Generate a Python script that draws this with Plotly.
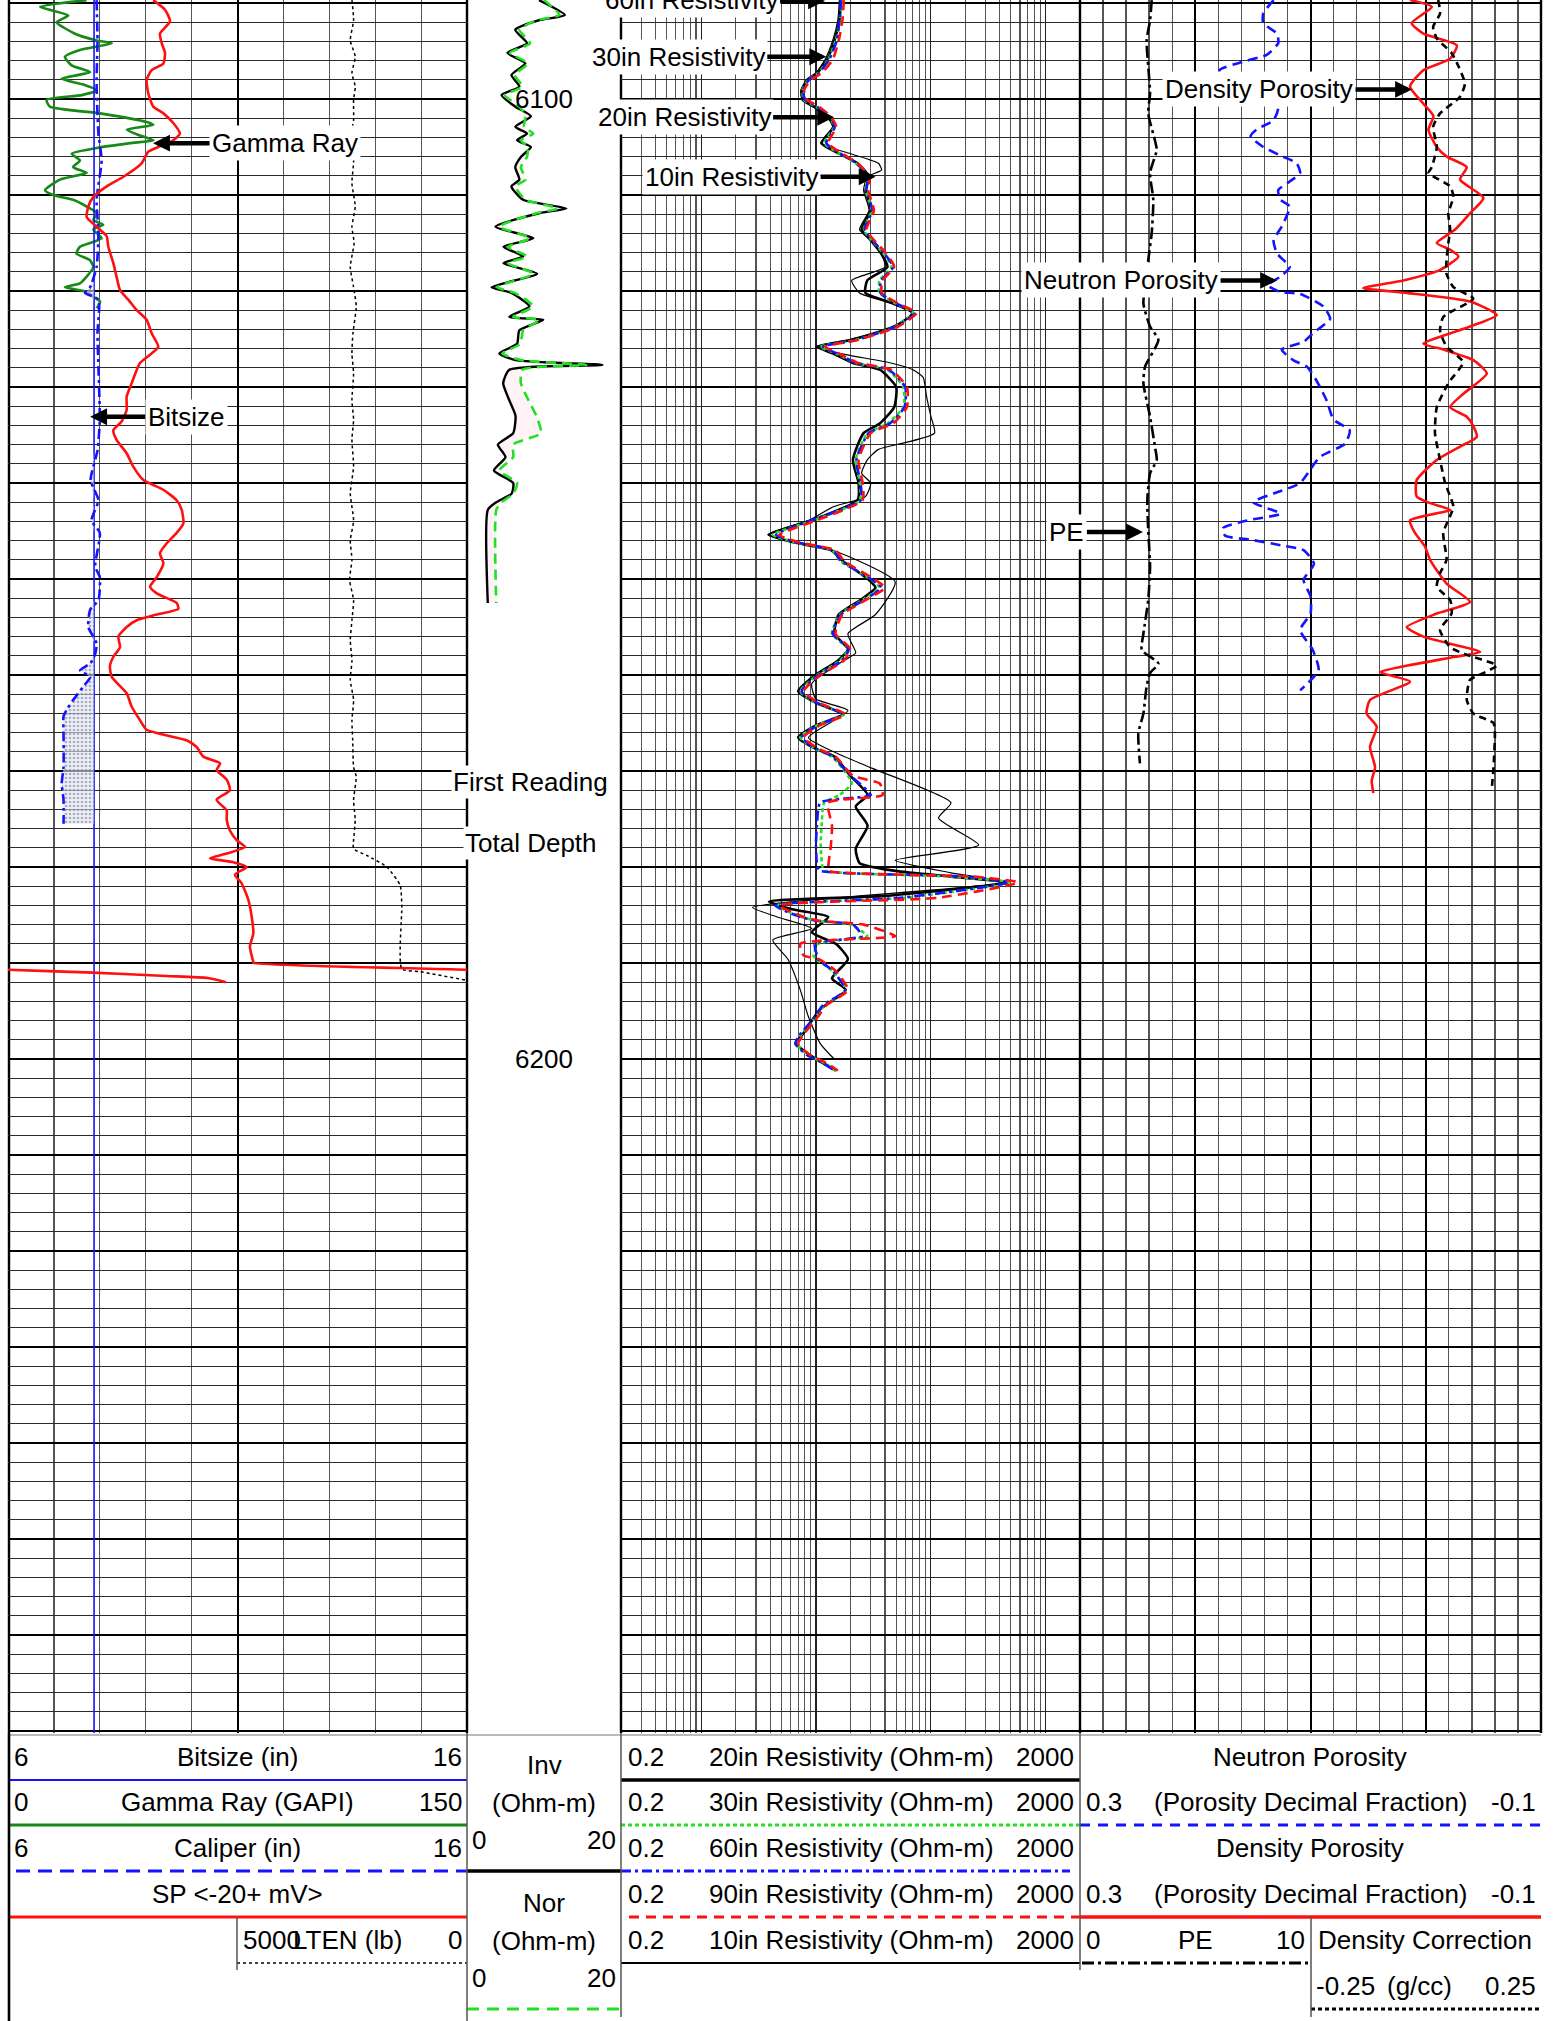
import math
import plotly.graph_objects as go

W, H = 1554, 2021
FONT = "Liberation Sans, Arial, Helvetica, sans-serif"
FS = 26

# ------------------------------------------------------------------ data
DEPTH_TOP, DEPTH_BOT = 6089.69, 6270.2

# Track 1 -------------------------------------------------------------
gr_depth = [6089.7, 6090.4, 6091.3, 6092.0, 6093.2, 6093.9, 6094.2, 6094.9, 6095.6, 6096.5,
            6097.2, 6097.9, 6098.5, 6099.1, 6099.6, 6100.1, 6100.8, 6101.5, 6102.4, 6102.7,
            6103.2, 6103.8, 6104.3, 6104.6, 6105.1, 6105.7, 6106.4, 6107.1, 6107.7, 6108.4,
            6109.5, 6110.0, 6110.5, 6111.2, 6111.9, 6112.6, 6113.1, 6113.6, 6114.5, 6115.4,
            6116.1, 6116.8, 6117.5, 6118.5, 6119.2, 6119.6, 6120.1, 6120.6, 6121.1, 6121.8]
gr_api = [25.7, 10.5, 19.7, 15.9, 21.9, 29.0, 33.9, 23.5, 18.6, 20.8,
          26.8, 17.5, 24.6, 29.0, 24.1, 12.6, 13.7, 30.1, 45.3, 47.5,
          38.8, 43.1, 47.5, 39.9, 29.0, 20.8, 23.5, 21.3, 25.7, 17.0,
          12.1, 14.8, 21.3, 25.7, 29.0, 27.9, 31.1, 27.9, 30.6, 23.5,
          22.4, 26.8, 27.9, 25.7, 23.5, 18.6, 25.7, 27.9, 30.1, 29.0]

sp_depth = [6089.7, 6090.7, 6091.9, 6093.2, 6094.2, 6095.2, 6096.3, 6097.0, 6098.0, 6099.4,
            6100.8, 6101.5, 6102.5, 6103.6, 6104.3, 6105.0, 6105.5, 6106.7, 6108.1, 6109.1,
            6110.2, 6111.2, 6112.3, 6113.3, 6114.3, 6115.4, 6117.1, 6118.5, 6119.9, 6120.9,
            6122.0, 6123.0, 6124.4, 6125.8, 6126.5, 6127.5, 6128.2, 6129.6, 6131.0, 6132.4,
            6133.6, 6134.5, 6135.5, 6136.9, 6138.3, 6139.7, 6140.7, 6141.8, 6142.8, 6144.2,
            6145.2, 6146.3, 6147.3, 6148.4, 6149.8, 6150.8, 6151.5, 6152.5, 6153.1, 6153.7,
            6154.3, 6155.0, 6156.0, 6157.1, 6158.1, 6159.1, 6160.2, 6161.9, 6163.3, 6164.7,
            6165.7, 6166.8, 6167.5, 6168.5, 6169.2, 6169.9, 6170.9, 6172.0, 6173.0, 6174.1,
            6175.1, 6176.2, 6177.2, 6177.9, 6178.6, 6179.1, 6179.5, 6180.0, 6180.8, 6181.7,
            6183.4, 6185.2, 6186.9, 6188.3, 6189.9, 6190.0, 6190.7, 6191.0, 6191.35, 6191.56, 6192.0]
sp_mv = [-36.7, -31.6, -29.4, -33.8, -33.0, -31.6, -32.3, -37.4, -39.6, -38.9,
         -36.7, -32.3, -28.0, -25.1, -28.0, -34.5, -38.9, -41.8, -49.7, -57.0,
         -62.8, -65.0, -65.7, -61.4, -57.0, -56.3, -54.1, -52.7, -51.2, -47.6,
         -43.9, -39.6, -37.4, -34.5, -37.4, -42.5, -43.9, -46.1, -48.3, -48.3,
         -50.5, -54.1, -52.7, -48.3, -45.4, -41.0, -32.3, -26.5, -24.3, -23.6,
         -26.5, -30.9, -33.8, -32.3, -35.2, -38.1, -35.2, -26.5, -25.8, -35.2,
         -43.9, -48.3, -51.9, -51.2, -54.1, -55.6, -54.8, -48.3, -46.1, -42.5,
         -39.6, -22.2, -17.8, -14.9, -7.6, -9.1, -4.7, -3.3, -9.1, -4.7,
         -4.7, -3.3, -0.4, 3.3, -4.7, -12.0, -1.8, 4.0, -1.1, 1.8,
         4.7, 6.2, 6.9, 5.4, 6.9, 7.0, 100.0, 137.0, 169.0, 187.0, 195.0]

cal_depth = [6089.7, 6093.9, 6098.4, 6103.6, 6106.4, 6110.5, 6114.0, 6117.5, 6119.6, 6120.2,
             6120.9, 6124.4, 6127.9, 6133.4, 6136.6, 6139.7, 6141.8, 6143.9, 6145.2, 6148.7,
             6149.8, 6152.2, 6153.2, 6155.0, 6156.7, 6157.8, 6158.8, 6159.5, 6160.2, 6161.2,
             6162.6, 6163.6, 6164.3, 6166.1, 6169.6, 6171.3, 6173.0, 6175.5]
cal_in = [7.93, 7.95, 7.93, 7.97, 8.04, 7.93, 7.97, 7.93, 7.79, 7.68,
          7.97, 7.95, 7.97, 8.00, 7.95, 7.80, 7.97, 7.82, 8.00, 7.90,
          8.00, 7.97, 7.79, 7.75, 7.93, 7.90, 7.79, 7.57, 7.79, 7.64,
          7.42, 7.28, 7.21, 7.21, 7.21, 7.17, 7.21, 7.21]

BITSIZE_IN = 7.875
bit_depth = [6089.0, 6271.0]

lten_depth = [6089.7, 6091.8, 6093.9, 6095.6, 6097.3, 6098.7, 6100.1, 6102.2, 6104.3, 6106.4,
              6108.8, 6111.2, 6113.3, 6115.0, 6117.5, 6119.6, 6121.6, 6124.4, 6126.5, 6128.6,
              6131.4, 6133.4, 6135.5, 6138.3, 6141.1, 6143.9, 6146.0, 6148.0, 6150.1, 6152.2,
              6154.3, 6156.4, 6158.5, 6160.5, 6162.6, 6164.7, 6166.8, 6169.6, 6170.6, 6173.0,
              6175.1, 6177.2, 6178.1, 6178.8, 6180.0, 6181.9, 6184.0, 6190.6, 6190.9, 6191.8]
lten_lb = [2507, 2471, 2543, 2435, 2507, 2435, 2471, 2471, 2543, 2471,
           2507, 2435, 2507, 2460, 2543, 2471, 2413, 2485, 2507, 2471,
           2507, 2471, 2507, 2471, 2543, 2471, 2543, 2507, 2558, 2471,
           2507, 2543, 2507, 2543, 2471, 2507, 2490, 2471, 2413, 2471,
           2435, 2471, 2471, 2181, 1746, 1457, 1420, 1420, 1022, 7]

# Depth track (micro resistivity) --------------------------------------
mic_depth = [6089.7, 6091.25, 6091.8, 6092.8, 6094.2, 6095.2, 6096.3, 6097.5, 6098.7, 6099.6,
             6100.8, 6101.8, 6102.9, 6103.6, 6104.3, 6105.0, 6106.0, 6107.1, 6108.4, 6109.1,
             6110.5, 6111.4, 6111.9, 6113.3, 6114.5, 6115.4, 6116.4, 6117.1, 6118.2, 6119.6,
             6120.2, 6121.6, 6122.7, 6123.0, 6124.1, 6125.5, 6126.5, 6127.2, 6127.7, 6128.2,
             6129.6, 6131.4, 6133.0, 6134.8, 6136.0, 6137.3, 6138.7, 6140.0, 6141.1, 6142.0,
             6142.8, 6152.5]
inv_ohmm = [9.35, 12.7, 9.35, 6.27, 7.8, 5.25, 7.56, 5.77, 6.8, 4.48,
            6.27, 8.3, 6.27, 7.8, 6.5, 8.3, 7.05, 6.27, 6.8, 5.77,
            7.3, 12.9, 9.35, 3.7, 8.6, 4.74, 7.3, 4.74, 9.1, 3.2,
            5.77, 8.1, 5.5, 9.9, 6.8, 6.5, 4.2, 6.27, 17.6, 5.5,
            4.7, 5.5, 6.3, 6.0, 4.0, 5.0, 3.5, 6.0, 5.8, 3.8,
            2.7, 2.7]
nor_ohmm = [10.0, 12.0, 9.0, 6.8, 8.2, 5.6, 7.9, 6.2, 7.2, 4.9,
            6.8, 7.6, 7.4, 8.6, 7.0, 7.9, 7.8, 7.0, 7.6, 6.3,
            7.6, 11.8, 9.0, 4.2, 8.2, 5.3, 7.8, 5.3, 8.6, 3.9,
            6.2, 8.6, 6.0, 9.4, 7.3, 6.9, 4.6, 7.0, 15.5, 7.2,
            7.0, 8.0, 9.0, 9.6, 6.0, 6.0, 4.2, 6.5, 6.0, 4.5,
            3.8, 3.8]

# Track 3 (resistivity, ohm-m) -----------------------------------------
res_depth = [6089.7, 6091.8, 6093.9, 6095.9, 6097.3, 6098.0, 6099.1, 6100.1, 6100.8, 6101.8,
             6102.9, 6104.6, 6105.7, 6106.7, 6108.1, 6109.5, 6111.6, 6113.6, 6114.7, 6116.1,
             6117.5, 6118.9, 6120.2, 6121.3, 6122.3, 6123.7, 6125.1, 6125.8, 6126.5, 6127.5,
             6128.2, 6130.0, 6132.1, 6133.8, 6134.8, 6137.6, 6140.0, 6141.8, 6143.8, 6145.4,
             6146.2, 6147.0, 6148.1, 6150.1, 6150.9, 6152.1, 6153.7, 6155.7, 6157.3, 6158.5,
             6160.1, 6161.7, 6162.9, 6164.1, 6165.3, 6166.5, 6167.7, 6168.5, 6170.5, 6171.3,
             6172.5, 6173.3, 6175.7, 6177.7, 6180.0, 6180.4, 6181.0, 6181.6, 6183.2, 6184.0,
             6185.2, 6185.6, 6186.0, 6187.2, 6188.0, 6189.2, 6189.6, 6190.8, 6192.8, 6194.4,
             6195.6, 6197.6, 6198.4, 6199.6, 6200.4, 6201.2]
res30 = [16.8, 16.2, 14.9, 12.8, 10.45, 8.57, 7.6, 7.9, 10.0, 12.8,
         14.4, 11.8, 16.2, 22.2, 28.2, 27.1, 30.6, 26.1, 30.6, 38.8,
         45.5, 35.8, 35.8, 49.2, 70.4, 49.2, 22.2, 10.9, 14.9, 22.2,
         42.0, 57.7, 57.7, 42.0, 28.2, 22.2, 24.1, 24.1, 10.0, 4.22,
         6.75, 13.8, 16.2, 30.6, 35.8, 26.1, 16.2, 13.8, 19.0, 16.2,
         10.0, 7.3, 10.0, 17.5, 10.0, 7.3, 10.0, 13.8, 19.0, 20.5,
         16.0, 11.8, 11.2, 11.0, 11.4, 12.0, 150.0, 500.0, 60.0, 4.6,
         7.5, 10.0, 20.0, 28.0, 10.5, 9.5, 10.0, 13.8, 18.2, 11.8,
         10.0, 7.3, 6.75, 8.57, 11.8, 14.9]
res60 = [16.5, 16.0, 15.2, 13.0, 10.6, 8.7, 7.7, 8.1, 10.2, 13.0,
         14.6, 12.3, 16.5, 22.5, 28.5, 27.5, 31.0, 26.5, 31.0, 39.5,
         47.0, 37.0, 36.5, 50.0, 72.0, 50.0, 22.5, 11.5, 15.2, 22.5,
         43.0, 60.0, 59.0, 44.0, 28.8, 22.5, 24.5, 24.5, 9.6, 4.5,
         6.9, 14.0, 16.5, 31.0, 37.0, 27.0, 16.5, 14.0, 19.3, 16.8,
         10.2, 7.5, 10.2, 17.0, 10.2, 7.5, 10.2, 14.0, 20.0, 24.0,
         30.0, 10.9, 10.2, 10.0, 10.3, 11.0, 200.0, 480.0, 55.0, 4.4,
         7.3, 10.2, 21.0, 25.0, 9.8, 10.2, 10.4, 14.0, 18.0, 11.5,
         9.8, 7.1, 6.6, 8.4, 11.5, 14.5]
res90 = [17.5, 17.0, 15.8, 14.0, 11.2, 9.0, 7.9, 8.4, 10.6, 13.4,
         15.0, 12.8, 17.0, 23.0, 29.5, 28.5, 32.0, 27.5, 32.0, 41.0,
         48.0, 38.0, 37.5, 52.0, 75.0, 52.0, 23.0, 12.0, 15.8, 23.5,
         45.0, 62.0, 62.0, 47.0, 30.0, 23.5, 25.5, 25.5, 10.6, 4.8,
         7.2, 14.8, 17.5, 33.0, 40.0, 28.0, 17.0, 14.8, 20.0, 17.5,
         10.6, 7.8, 10.6, 18.0, 10.6, 7.8, 10.6, 14.8, 21.0, 36.0,
         38.0, 12.8, 13.8, 13.5, 12.8, 13.0, 240.0, 575.0, 117.0, 4.8,
         7.8, 10.6, 26.0, 49.0, 7.3, 7.8, 10.6, 14.8, 19.0, 12.3,
         10.4, 7.6, 7.0, 8.9, 12.3, 15.5]

res20_depth = [6089.7, 6091.8, 6093.9, 6095.9, 6097.3, 6098.0, 6099.1, 6100.1, 6100.8, 6101.8,
               6102.9, 6104.6, 6105.7, 6106.7, 6108.1, 6109.5, 6111.6, 6113.6, 6114.7, 6116.1,
               6117.5, 6118.9, 6120.2, 6121.3, 6122.3, 6123.7, 6125.1, 6125.8, 6126.5, 6127.5,
               6128.2, 6130.0, 6132.1, 6133.8, 6134.8, 6137.6, 6140.0, 6141.8, 6143.8, 6145.4,
               6146.2, 6147.0, 6148.1, 6150.1, 6150.9, 6152.1, 6153.7, 6155.7, 6157.3, 6158.5,
               6160.1, 6161.7, 6162.9, 6164.1, 6165.3, 6166.5, 6167.7, 6168.5, 6170.5, 6172.5,
               6173.7, 6175.7, 6178.1, 6179.6, 6180.4, 6181.0, 6181.6, 6183.0, 6183.6, 6184.4,
               6185.2, 6186.8, 6188.0, 6189.6, 6191.6, 6192.8, 6194.8, 6197.2, 6198.4, 6200.0,
               6201.2]
res20 = [16.5, 16.0, 14.5, 12.5, 10.2, 8.4, 7.5, 7.7, 9.6, 12.6,
         14.2, 11.2, 16.0, 23.0, 29.0, 27.0, 30.0, 25.0, 30.0, 37.0,
         42.0, 28.0, 27.0, 47.0, 70.4, 48.0, 20.0, 10.2, 14.0, 21.0,
         36.0, 50.0, 48.0, 36.0, 26.0, 21.0, 23.5, 23.0, 9.6, 3.9,
         6.5, 13.5, 17.0, 29.0, 33.0, 25.0, 15.8, 14.5, 19.0, 15.5,
         9.6, 7.0, 10.0, 17.0, 9.8, 7.0, 10.0, 14.5, 20.0, 28.2,
         22.2, 28.2, 22.2, 24.1, 49.2, 150.0, 454.0, 40.0, 3.9, 6.2,
         12.8, 9.2, 14.9, 19.0, 13.8, 18.2, 10.9, 7.9, 6.75, 10.0,
         14.9]

res10_depth = [6089.7, 6091.8, 6093.9, 6095.9, 6097.3, 6098.0, 6099.1, 6100.1, 6100.8, 6101.8,
               6102.9, 6104.6, 6105.7, 6106.7, 6107.4, 6108.1, 6109.5, 6111.6, 6113.6, 6114.7,
               6116.1, 6117.5, 6118.9, 6120.2, 6121.3, 6122.3, 6123.7, 6125.1, 6125.8, 6126.5,
               6127.5, 6128.2, 6129.0, 6131.0, 6133.0, 6134.8, 6135.8, 6136.5, 6137.6, 6139.0,
               6140.0, 6141.4, 6142.5, 6143.8, 6145.4, 6146.2, 6147.0, 6150.3, 6153.7, 6155.7,
               6157.7, 6158.5, 6160.9, 6162.5, 6163.7, 6166.5, 6168.1, 6169.7, 6173.3, 6174.9,
               6177.7, 6179.3, 6180.6, 6181.6, 6184.2, 6185.2, 6186.4, 6187.6, 6189.6, 6192.8,
               6195.6, 6198.4, 6200.0]
res10 = [16.0, 15.5, 14.0, 12.0, 10.0, 8.3, 7.4, 7.6, 9.4, 12.4,
         14.0, 11.0, 20.0, 35.0, 37.3, 28.0, 26.0, 29.0, 24.0, 30.0,
         37.0, 40.0, 20.5, 24.0, 46.0, 68.0, 50.0, 19.0, 10.0, 16.0,
         45.0, 70.0, 86.0, 92.0, 100.0, 108.0, 60.0, 35.0, 28.0, 25.0,
         30.0, 27.0, 14.0, 9.0, 3.8, 6.5, 14.0, 49.0, 33.0, 19.0,
         22.2, 17.5, 9.2, 10.0, 19.0, 8.6, 14.9, 30.6, 150.0, 117.0,
         262.0, 49.0, 150.0, 454.0, 2.8, 4.6, 9.2, 4.2, 5.7, 7.3,
         8.6, 10.9, 14.4]

# Track 4 -------------------------------------------------------------
nphi_depth = [6089.7, 6091.1, 6092.1, 6093.2, 6094.2, 6095.4, 6096.1, 6097.0, 6099.0, 6100.8,
              6102.2, 6103.2, 6103.9, 6105.0, 6106.0, 6106.7, 6107.7, 6108.6, 6109.5, 6110.5,
              6111.2, 6113.3, 6114.7, 6116.1, 6117.5, 6118.5, 6119.4, 6120.1, 6120.3, 6121.6,
              6122.9, 6124.4, 6125.3, 6126.1, 6127.2, 6127.9, 6129.3, 6131.4, 6133.4, 6134.5,
              6135.9, 6137.3, 6140.0, 6141.1, 6142.0, 6143.2, 6143.9, 6144.7, 6145.5, 6145.9,
              6146.5, 6147.0, 6148.4, 6150.1, 6151.8, 6153.6, 6155.3, 6157.4, 6159.5, 6161.6]
nphi = [0.132, 0.141, 0.141, 0.129, 0.128, 0.138, 0.158, 0.179, 0.150, 0.128,
        0.132, 0.147, 0.152, 0.141, 0.124, 0.112, 0.109, 0.118, 0.128, 0.126,
        0.118, 0.125, 0.132, 0.129, 0.118, 0.126, 0.137, 0.126, 0.109, 0.089,
        0.083, 0.098, 0.106, 0.125, 0.115, 0.103, 0.095, 0.086, 0.080, 0.066,
        0.070, 0.092, 0.109, 0.132, 0.150, 0.126, 0.155, 0.176, 0.174, 0.152,
        0.125, 0.106, 0.097, 0.106, 0.100, 0.100, 0.109, 0.098, 0.093, 0.109]

dphi_depth = [6089.7, 6090.4, 6092.1, 6093.2, 6094.4, 6095.8, 6097.0, 6098.7, 6100.5, 6101.8,
              6103.2, 6105.0, 6106.0, 6107.1, 6108.4, 6110.3, 6111.9, 6113.6, 6115.0, 6115.7,
              6116.4, 6117.8, 6118.9, 6119.7, 6120.2, 6121.1, 6122.5, 6123.7, 6125.5, 6126.1,
              6127.2, 6128.6, 6130.7, 6132.1, 6133.1, 6134.1, 6135.2, 6136.2, 6137.6, 6139.7,
              6141.4, 6142.1, 6142.8, 6143.9, 6145.2, 6146.6, 6148.0, 6150.5, 6152.4, 6153.6,
              6155.0, 6156.0, 6157.6, 6158.1, 6159.1, 6159.7, 6160.7, 6162.6, 6164.0, 6165.4,
              6167.5, 6169.6, 6171.0, 6172.3]
dphi = [0.0137, -0.0052, 0.0122, 0.0021, -0.0269, -0.0211, 0.0021, 0.0137, 0.0021, -0.0066,
        -0.0023, -0.0095, -0.0182, -0.0355, -0.0297, -0.0500, -0.0384, -0.0254, -0.0095, -0.0211,
        -0.0283, -0.0124, 0.0195, 0.0542, 0.0165, -0.0384, -0.0616, -0.0384, 0.0021, -0.0153,
        -0.0413, -0.0529, -0.0326, -0.0211, -0.0355, -0.0413, -0.0442, -0.0297, -0.0095, 0.0079,
        0.0079, -0.0037, -0.0211, 0.0137, 0.0094, 0.0008, -0.0037, -0.0182, -0.0384, -0.0095,
        0.0165, 0.0021, -0.0471, -0.0254, 0.0195, 0.0397, 0.0137, 0.0484, 0.0513, 0.0426,
        0.0484, 0.0440, 0.0469, 0.0455]

pe_depth = [6089.7, 6091.8, 6093.9, 6096.6, 6099.4, 6101.5, 6104.3, 6105.3, 6107.7, 6110.5,
            6114.0, 6116.8, 6118.5, 6121.3, 6123.7, 6125.1, 6127.9, 6129.6, 6133.1, 6136.2,
            6137.6, 6139.0, 6141.8, 6144.9, 6148.7, 6152.2, 6155.7, 6157.4, 6158.8, 6159.8,
            6161.2, 6164.0, 6166.1, 6169.2]
pe_bpe = [3.11, 3.04, 2.89, 2.96, 3.04, 2.96, 3.25, 3.33, 3.04, 3.18,
          3.11, 2.96, 2.89, 2.75, 3.04, 3.40, 2.82, 2.75, 3.04, 3.25,
          3.33, 3.04, 2.92, 2.96, 3.04, 2.96, 2.75, 2.68, 3.40, 3.04,
          2.89, 2.75, 2.53, 2.60]

drho_depth = [6089.7, 6091.1, 6092.5, 6093.7, 6095.2, 6096.6, 6098.4, 6099.8, 6101.5, 6102.9,
              6105.0, 6107.1, 6107.7, 6109.1, 6110.2, 6111.9, 6113.6, 6115.0, 6116.8, 6118.2,
              6119.6, 6120.8, 6122.7, 6124.1, 6125.8, 6127.4, 6129.6, 6132.1, 6134.8, 6137.6,
              6140.0, 6141.4, 6142.5, 6145.2, 6148.0, 6149.4, 6150.8, 6152.2, 6153.6, 6155.3,
              6157.1, 6157.9, 6159.0, 6159.8, 6160.5, 6162.6, 6164.0, 6165.0, 6166.1, 6169.6,
              6172.0]
drho = [0.027, 0.031, 0.016, 0.024, 0.056, 0.071, 0.085, 0.074, 0.031, 0.016,
        0.024, 0.013, 0.006, 0.053, 0.060, 0.049, 0.053, 0.049, 0.045, 0.045,
        0.060, 0.103, 0.038, 0.031, 0.045, 0.081, 0.049, 0.024, 0.020, 0.031,
        0.042, 0.053, 0.060, 0.038, 0.045, 0.031, 0.024, 0.053, 0.056, 0.031,
        0.053, 0.089, 0.154, 0.125, 0.096, 0.089, 0.103, 0.147, 0.150, 0.147,
        0.143]

depth_marks = [6100, 6200]
FIRST_READING = 6171.1
TOTAL_DEPTH = 6177.5

# ------------------------------------------------------------------ layout helpers
def px(x):
    return x / W


def py(y):
    return 1 - y / H


GRID_BOTTOM = 1733
T1 = (8, 467)
TD = (467, 621)
T3 = (621, 1080)
T4 = (1080, 1541)

BLUE = "#1414ff"
GREEN_DK = "#168a16"
GREEN_LT = "#22e022"
RED = "#ff1010"
SMOOTH = 0.55

fig = go.Figure()


def line_trace(x, y, xa, ya, color, width, dash="solid", smooth=True, **kw):
    line = dict(color=color, width=width, dash=dash)
    if smooth:
        line.update(shape="spline", smoothing=SMOOTH)
    fig.add_trace(go.Scatter(x=x, y=y, xaxis=xa, yaxis=ya, mode="lines", line=line,
                             hoverinfo="skip", **kw))


# ---- Track 1
line_trace([BITSIZE_IN, BITSIZE_IN], bit_depth, "x2", "y", BLUE, 1.6, smooth=False)
line_trace([BITSIZE_IN] * len(cal_depth), cal_depth, "x2", "y", "rgba(0,0,0,0)", 0, smooth=False)
fig.add_trace(go.Scatter(x=[min(c, BITSIZE_IN) for c in cal_in], y=cal_depth, xaxis="x2", yaxis="y",
                         mode="lines", line=dict(width=0, color="rgba(0,0,0,0)"), fill="tonextx",
                         fillcolor="rgba(205,210,230,0.55)",
                         fillpattern=dict(shape=".", fgcolor="#6a6f8a", bgcolor="rgba(225,228,240,0.6)",
                                          size=4, solidity=0.35),
                         hoverinfo="skip"))
line_trace(cal_in, cal_depth, "x2", "y", BLUE, 2.6, "10px,4px,3px,4px")
line_trace(gr_api, gr_depth, "x", "y", GREEN_DK, 2.6)
line_trace(sp_mv, sp_depth, "x3", "y", RED, 2.6)
line_trace([v - 200 for v in sp_mv], sp_depth, "x3", "y", RED, 2.6)   # wrap-around (backup scale)
line_trace(lten_lb, lten_depth, "x4", "y", "black", 1.5, "3px,3px")

# ---- Depth track micro-resistivity
line_trace(inv_ohmm, mic_depth, "x5", "y2", "black", 2.4)
line_trace(nor_ohmm, mic_depth, "x5", "y2", GREEN_LT, 2.6, "10px,6px",
           fill="tonextx", fillcolor="rgba(255,200,220,0.22)")

# ---- Track 3 resistivities
line_trace(res10, res10_depth, "x6", "y", "black", 1.2)
line_trace(res20, res20_depth, "x6", "y", "black", 2.6)
line_trace(res30, res_depth, "x6", "y", GREEN_LT, 2.6, "4px,3px")
line_trace(res60, res_depth, "x6", "y", BLUE, 2.6, "10px,4px,3px,4px")
line_trace(res90, res_depth, "x6", "y", RED, 2.6, "10px,6px")

# ---- Track 4
line_trace(pe_bpe, pe_depth, "x8", "y", "black", 2.6, "12px,4px,3px,4px")
line_trace(nphi, nphi_depth, "x7", "y", BLUE, 2.6, "10px,6px")
line_trace(drho, drho_depth, "x9", "y", "black", 2.6, "7px,5px")
line_trace(dphi, dphi_depth, "x7", "y", RED, 2.6)

# ------------------------------------------------------------------ axes
hidden = dict(visible=False, anchor="y")
noticks = dict(showticklabels=False, ticks="", zeroline=False, showline=False, fixedrange=True)

# ranges nudged by a hair so that edge grid lines do not double the track borders
layout = dict(
    width=W, height=H, margin=dict(l=0, r=0, t=0, b=0, pad=0, autoexpand=False),
    paper_bgcolor="white", plot_bgcolor="white", showlegend=False, hovermode=False,
    xaxis=dict(domain=[px(T1[0]), px(T1[1])], range=[0, 150], anchor="y",
               showgrid=True, tick0=0, dtick=75, gridcolor="black", gridwidth=2,
               minor=dict(tick0=0, dtick=15, showgrid=True, gridcolor="#555555", gridwidth=1.2, ticks=""),
               **noticks),
    xaxis2=dict(overlaying="x", range=[6, 16], **hidden),
    xaxis3=dict(overlaying="x", range=[-100, 100], **hidden),
    xaxis4=dict(overlaying="x", range=[10000, 0], **hidden),
    xaxis5=dict(domain=[px(TD[0]), px(TD[1])], range=[0, 20], anchor="y2", visible=False),
    xaxis6=dict(domain=[px(T3[0]), px(T3[1])], type="log",
                range=[math.log10(0.2), math.log10(1999.5)], anchor="y",
                showgrid=True, dtick=1, gridcolor="#222222", gridwidth=1.4,
                minor=dict(dtick="D1", showgrid=True, gridcolor="#555555", gridwidth=1.1, ticks=""),
                **noticks),
    xaxis7=dict(domain=[px(T4[0]), px(T4[1])], range=[0.2999, -0.0999], anchor="y",
                showgrid=True, tick0=0, dtick=0.1, gridcolor="black", gridwidth=2,
                minor=dict(tick0=0, dtick=0.02, showgrid=True, gridcolor="#555555", gridwidth=1.2, ticks=""),
                **noticks),
    xaxis8=dict(overlaying="x7", range=[0, 20], **hidden),
    xaxis9=dict(overlaying="x7", range=[-0.75, 0.25], **hidden),
    yaxis=dict(domain=[py(GRID_BOTTOM), 1], range=[DEPTH_BOT, DEPTH_TOP], anchor="x",
               showgrid=True, tick0=6100, dtick=10, gridcolor="black", gridwidth=2.4,
               minor=dict(tick0=6100, dtick=2, showgrid=True, gridcolor="#2a2a2a", gridwidth=1.1, ticks=""),
               showticklabels=False, ticks="", zeroline=False, fixedrange=True, showline=False),
    yaxis2=dict(domain=[py(GRID_BOTTOM), 1], range=[DEPTH_BOT, DEPTH_TOP], anchor="x5", visible=False),
)
fig.update_layout(**layout)

# ------------------------------------------------------------------ borders and header shapes
shapes = []


def hline(x0, x1, y, color, width, dash="solid"):
    shapes.append(dict(type="line", xref="paper", yref="paper", x0=px(x0), x1=px(x1), y0=py(y), y1=py(y),
                       line=dict(color=color, width=width, dash=dash)))


def vline(x, y0, y1, color="#555555", width=1.5, layer="above"):
    shapes.append(dict(type="line", xref="paper", yref="paper", x0=px(x), x1=px(x), y0=py(y0), y1=py(y1),
                       line=dict(color=color, width=width), layer=layer))


# track borders in the grid area
for xb in (T1[0] + 1, T1[1], T3[0], T4[0], T4[1]):
    vline(xb, 0, GRID_BOTTOM, "black", 2.4, layer="below")

hline(T1[0], T4[1], GRID_BOTTOM + 2, "#777777", 1)
hline(T1[0], T1[1], 1780, BLUE, 2)
hline(T1[0], T1[1], 1825, GREEN_DK, 3)
hline(T1[0] + 8, T1[1], 1871, BLUE, 3, "14px,8px")
hline(T1[0], T1[1], 1917, RED, 3)
hline(237, T1[1], 1963, "black", 1.5, "3px,3px")
hline(TD[0], TD[1], 1871, "black", 3.5)
hline(TD[0], TD[1], 2009, GREEN_LT, 3, "12px,8px")
hline(T3[0], T3[1], 1780, "black", 3.5)
hline(T3[0], T3[1], 1825, GREEN_LT, 3, "4px,3px")
hline(T3[0], T3[1] - 10, 1871, BLUE, 3, "10px,4px,3px,4px")
hline(T3[0] + 8, T3[1], 1917, RED, 3, "10px,7px")
hline(T3[0], T3[1], 1963, "black", 1.8)
hline(T4[0], T4[1], 1825, BLUE, 3, "10px,8px")
hline(T4[0], T4[1], 1917, RED, 3.5)
hline(T4[0] + 2, 1308, 1963, "black", 3, "12px,4px,3px,4px")
hline(1311, T4[1] - 2, 2009, "black", 3, "4px,3px")

vline(T1[0] + 1, GRID_BOTTOM, H, "black", 2.6)
vline(T1[1], GRID_BOTTOM, H)
vline(TD[1], GRID_BOTTOM, 2017)
vline(T4[0], GRID_BOTTOM, 1970)
vline(1311, 1917, 2017)
vline(237, 1917, 1970)
fig.update_layout(shapes=shapes)

# ------------------------------------------------------------------ annotations
ann = []
TXT = dict(family=FONT, size=FS, color="black")


def htext(text, x, y, anchor="center"):
    ann.append(dict(text=text, x=px(x), y=py(y), xref="paper", yref="paper", xanchor=anchor,
                    yanchor="middle", showarrow=False, font=TXT))


# Track 1 header
for y, lo, name, hi in [(1757, "6", "Bitsize (in)", "16"),
                        (1802, "0", "Gamma Ray (GAPI)", "150"),
                        (1848, "6", "Caliper (in)", "16")]:
    htext(lo, 12, y, "left")
    htext(name, 237, y)
    htext(hi, 464, y, "right")
htext("SP <-20+ mV>", 238, 1894)
htext("5000", 241, 1940, "left")
htext("LTEN (lb)", 347, 1940)
htext("0", 464, 1940, "right")

# Depth track header
for y0, name in [(1765, "Inv"), (1903, "Nor")]:
    htext(name, 544, y0)
    htext("(Ohm-m)", 544, y0 + 38)
    htext("0", 470, y0 + 75, "left")
    htext("20", 618, y0 + 75, "right")

# Track 3 header
for y, name in [(1757, "20in Resistivity (Ohm-m)"), (1802, "30in Resistivity (Ohm-m)"),
                (1848, "60in Resistivity (Ohm-m)"), (1894, "90in Resistivity (Ohm-m)"),
                (1940, "10in Resistivity (Ohm-m)")]:
    htext("0.2", 626, y, "left")
    htext(name, 851, y)
    htext("2000", 1076, y, "right")

# Track 4 header
htext("Neutron Porosity", 1310, 1757)
htext("Density Porosity", 1310, 1848)
for y in (1802, 1894):
    htext("0.3", 1084, y, "left")
    htext("(Porosity Decimal Fraction)", 1311, y)
    htext("-0.1", 1538, y, "right")
htext("0", 1084, 1940, "left")
htext("PE", 1195, 1940)
htext("10", 1307, 1940, "right")
htext("Density Correction", 1425, 1940)
htext("-0.25", 1314, 1986, "left")
htext("(g/cc)", 1419, 1986)
htext("0.25", 1538, 1986, "right")

# depth labels
for d in depth_marks:
    ann.append(dict(text=str(d), x=10, y=d, xref="x5", yref="y2", showarrow=False, font=TXT))
for txt, d, xc in [("First Reading", FIRST_READING, 530), ("Total Depth", TOTAL_DEPTH, 531)]:
    ann.append(dict(text=txt, x=px(xc), y=d, xref="paper", yref="y2", showarrow=False, font=TXT,
                    bgcolor="white", borderpad=1))


def arrow(text, x, y, xref, yref, ax, ay=0):
    ann.append(dict(text=text, x=x, y=y, xref=xref, yref=yref, ax=ax, ay=ay, axref="pixel", ayref="pixel",
                    showarrow=True, arrowhead=2, arrowsize=0.75, arrowwidth=4.5, arrowcolor="black",
                    bgcolor="white", borderpad=2, font=TXT))


arrow("Gamma Ray", 47.4, 6104.6, "x", "y", 132)
arrow("Bitsize", 7.79, 6133.1, "x2", "y", 96)
arrow("60in Resistivity", math.log10(12.0), py(1), "x6", "paper", -134, -6)
arrow("30in Resistivity", math.log10(12.3), 6095.6, "x6", "y", -148)
arrow("20in Resistivity", math.log10(14.4), 6101.9, "x6", "y", -150)
arrow("10in Resistivity", math.log10(33.1), 6108.1, "x6", "y", -144)
arrow("Density Porosity", 0.012, 6099.0, "x7", "y", -153)
arrow("Neutron Porosity", 0.129, 6118.9, "x7", "y", -156)
arrow("PE", 2.73, 6145.1, "x8", "y", -76)

fig.update_layout(annotations=ann)

# the page body normally adds an 8px margin; remove it so the figure sits at the page origin
fig.write_html("out.html", config={"displayModeBar": False, "staticPlot": True},
               post_script="document.body.style.margin='0';document.body.style.overflow='hidden';")
